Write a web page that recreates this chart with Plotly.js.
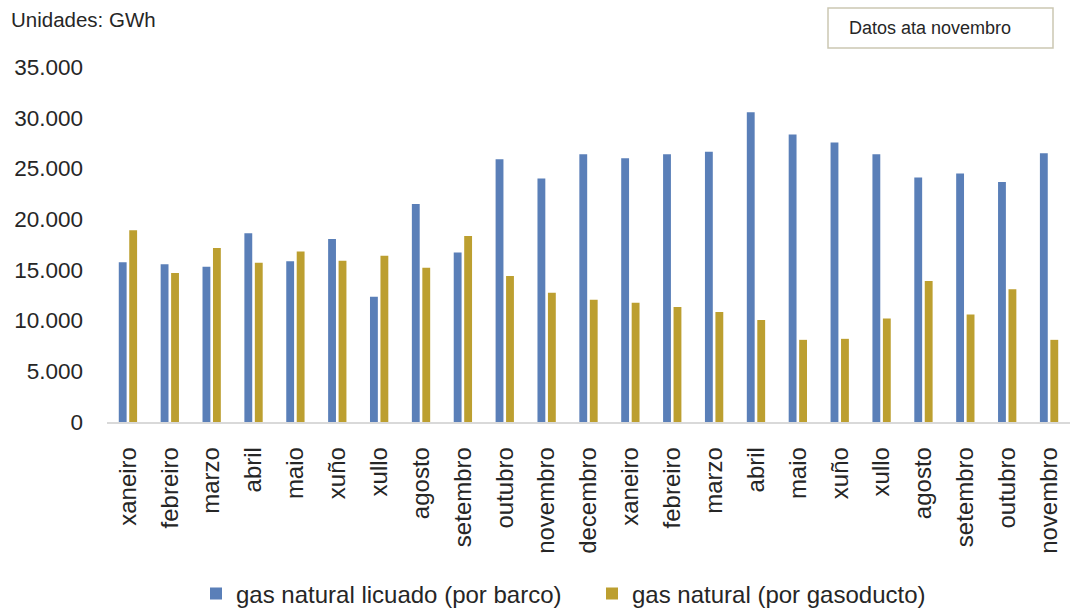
<!DOCTYPE html>
<html>
<head>
<meta charset="utf-8">
<script src="https://cdn.plot.ly/plotly-3.0.1.min.js"></script>
<style>
html,body{margin:0;padding:0;background:#fff;}
#chart{width:1070px;height:612px;}
</style>
</head>
<body>
<div id="chart"></div>
<script>
const months = ["xaneiro","febreiro","marzo","abril","maio","xuño","xullo","agosto","setembro","outubro","novembro","decembro",
                "xaneiro","febreiro","marzo","abril","maio","xuño","xullo","agosto","setembro","outubro","novembro"];
const gnlBarco = [15750,15550,15300,18600,15850,18050,12350,21500,16700,25900,24000,26400,
                  26000,26400,26650,30550,28350,27550,26400,24100,24500,23650,26500];
const gasGasoducto = [18900,14700,17150,15700,16800,15900,16400,15200,18350,14400,12750,12050,
                      11750,11350,10850,10050,8100,8200,10200,13900,10600,13100,8100];
const seriesNames = ["gas natural licuado (por barco)","gas natural (por gasoducto)"];
const idx = months.map((m,i)=>i);

const FONT = "Liberation Sans, Arial, sans-serif";
const TXT = "#262626";
const plotL = 107, plotT = 67, plotB = 190, plotW = 963, plotH = 612-67-190;
const px2x = X => (X - plotL)/plotW;
const px2y = Y => (plotT + plotH - Y)/plotH;

const traces = [
  {type:"bar", x: idx, y: gnlBarco, name: seriesNames[0], marker:{color:"#5A7FB8"}},
  {type:"bar", x: idx, y: gasGasoducto, name: seriesNames[1], marker:{color:"#BC9F30"}}
];

const layout = {
  width:1070, height:612,
  margin:{l:plotL, r:0, t:plotT, b:plotB, pad:0, autoexpand:false},
  paper_bgcolor:"#fff", plot_bgcolor:"#fff",
  separators:",.",
  font:{family:FONT, color:TXT, size:22},
  barmode:"group", bargap:0.5, bargroupgap:0.25,
  showlegend:true,
  legend:{orientation:"h", x:(196)/1070, xref:"container", xanchor:"left",
          y:(612-594)/612, yref:"container", yanchor:"middle",
          font:{size:24, color:TXT, family:FONT}, bgcolor:"rgba(0,0,0,0)",
          entrywidth:351, entrywidthmode:"pixels", traceorder:"normal"},
  xaxis:{range:[-0.5,22.5], tickmode:"array", tickvals:idx, ticktext:months, tickangle:-90,
         showgrid:false, zeroline:false, showline:true, linecolor:"#d9d9d9", linewidth:1.5,
         ticks:"", ticklabelstandoff:14, tickfont:{size:24, color:TXT}, fixedrange:true},
  yaxis:{range:[0,35000], tick0:0, dtick:5000, tickformat:",d", showgrid:false, zeroline:false,
         showline:false, ticks:"", ticklabelstandoff:23, tickfont:{size:22.5, color:TXT}, fixedrange:true},
  shapes:[{type:"rect", xref:"paper", yref:"paper", x0:px2x(828), x1:px2x(1053), y0:px2y(48), y1:px2y(8),
           line:{color:"#cbc7b3", width:1.5}, fillcolor:"#ffffff"}],
  annotations:[
    {xref:"paper", yref:"paper", x:px2x(9), y:px2y(20), xanchor:"left", yanchor:"middle",
     text:"Unidades: GWh", showarrow:false, font:{size:20.5, color:TXT}},
    {xref:"paper", yref:"paper", x:px2x(847), y:px2y(28), xanchor:"left", yanchor:"middle",
     text:"Datos ata novembro", showarrow:false, font:{size:18, color:TXT}}
  ]
};

Plotly.newPlot("chart", traces, layout, {displayModeBar:false, staticPlot:true});
</script>
</body>
</html>
